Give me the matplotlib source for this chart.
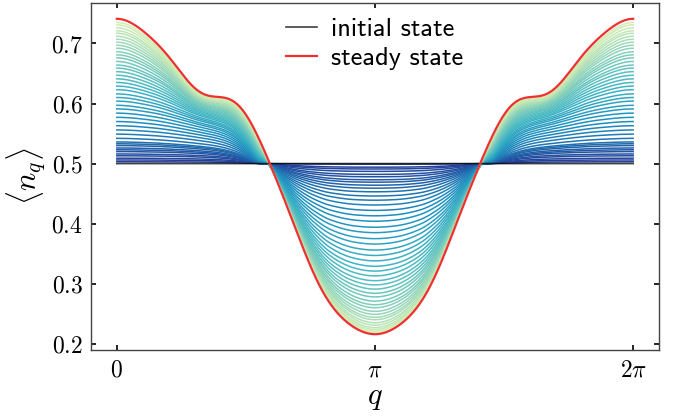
import numpy as np
import matplotlib.pyplot as plt

plt.rcParams['mathtext.fontset'] = 'cm'
plt.rcParams['font.family'] = 'serif'
plt.rcParams['font.serif'] = ['DejaVu Serif']

# steady-state occupation on [0, pi]; the other half is its mirror image
q_steady = [0.0, 0.154, 0.316, 0.477, 0.639, 0.80, 0.963, 1.125, 1.286, 1.448, 1.57,
            1.69, 1.81, 1.89, 2.01, 2.14, 2.26, 2.38, 2.50, 2.62, 2.74, 2.86, 2.99, np.pi]
n_steady = [0.741, 0.735, 0.722, 0.701, 0.676, 0.648, 0.625, 0.6125, 0.609, 0.601, 0.584,
            0.550, 0.517, 0.491, 0.450, 0.405, 0.361, 0.322, 0.288, 0.263, 0.243, 0.230,
            0.220, 0.216]

# normalised profile of the earliest time steps (+1 at q=0, -1 at q=pi)
q_early = [0.0, 0.4, 0.8, 1.1, 1.3, 1.45, 1.6, 1.75, 1.8, 1.9, 2.0, 2.2, 2.4, 2.6, 2.9, np.pi]
shape_early = [1.0, 0.98, 0.92, 0.82, 0.68, 0.5, 0.25, 0.0, 0.0, -0.12, -0.3, -0.6,
               -0.8, -0.92, -0.99, -1.0]

# <n_q> at q = 0 and q = pi for each intermediate time step
n_edge = [0.503, 0.506, 0.509, 0.513, 0.516, 0.520, 0.523, 0.526, 0.530, 0.533, 0.536,
          0.542, 0.549, 0.556, 0.563, 0.570, 0.577, 0.584, 0.591, 0.597, 0.604,
          0.610, 0.616, 0.623, 0.629, 0.635, 0.641, 0.647, 0.653, 0.659, 0.664,
          0.670, 0.676, 0.681, 0.686, 0.692, 0.697, 0.702, 0.707, 0.712, 0.717,
          0.721, 0.726, 0.731, 0.735]
n_center = [0.499, 0.494, 0.491, 0.487, 0.482, 0.478, 0.473, 0.469, 0.464, 0.459,
            0.453, 0.446, 0.439, 0.431, 0.422, 0.413, 0.404, 0.394, 0.385, 0.375,
            0.366, 0.356, 0.347, 0.338, 0.329, 0.321, 0.313, 0.305, 0.298, 0.291,
            0.284, 0.278, 0.271, 0.265, 0.260, 0.254, 0.249, 0.244, 0.240, 0.235,
            0.231, 0.227, 0.224, 0.221, 0.218]

n_initial = 0.5


def cosine_fit(qk, vk, q, order=9):
    """Least-squares even Fourier series through the sampled points."""
    qk = np.asarray(qk, float)
    k = np.arange(order + 1)
    coef, *_ = np.linalg.lstsq(np.cos(np.outer(qk, k)), np.asarray(vk, float), rcond=None)
    return np.cos(np.outer(q, k)) @ coef


def pchip(qk, vk, q):
    """Shape-preserving cubic through the knots, flat at q=0 and q=pi."""
    qk = np.asarray(qk, float)
    vk = np.asarray(vk, float)
    h = np.diff(qk)
    d = np.diff(vk) / h
    m = np.zeros_like(vk)
    for k in range(1, len(vk) - 1):
        if d[k - 1] * d[k] > 0:
            w1 = 2 * h[k] + h[k - 1]
            w2 = h[k] + 2 * h[k - 1]
            m[k] = (w1 + w2) / (w1 / d[k - 1] + w2 / d[k])
    i = np.clip(np.searchsorted(qk, q) - 1, 0, len(qk) - 2)
    hi = h[i]
    t = (q - qk[i]) / hi
    return ((2 * t**3 - 3 * t**2 + 1) * vk[i] + (t**3 - 2 * t**2 + t) * hi * m[i]
            + (-2 * t**3 + 3 * t**2) * vk[i + 1] + (t**3 - t**2) * hi * m[i + 1])


q = np.linspace(0, 2 * np.pi, 1200)
qf = np.minimum(q, 2 * np.pi - q)

steady = cosine_fit(q_steady, n_steady, q)
dev = steady - n_initial
shape_steady = np.where(dev > 0, dev / (steady[0] - n_initial),
                        dev / (n_initial - steady.min()))
shape_init = pchip(q_early, shape_early, qf)

fig = plt.figure(figsize=(6.88, 4.16), dpi=100)
ax = fig.add_axes([0.1323, 0.1587, 0.8255, 0.834])

colors = plt.cm.YlGnBu_r(np.linspace(0.15, 0.78, len(n_edge)))
depth_final = n_initial - steady.min()
for ne, nc, c in zip(n_edge, n_center, colors):
    w = (n_initial - nc) / depth_final
    shape = (1 - w) * shape_init + w * shape_steady
    a = ne - n_initial
    b = n_initial - nc
    ax.plot(q, n_initial + np.where(shape > 0, a * shape, b * shape), color=c, lw=1.1)

ax.plot(q, np.full_like(q, n_initial), color='k', alpha=0.75, lw=1.2, label='initial state')
ax.plot(q, steady, color='#f03030', lw=1.6, label='steady state')

ax.set_xticks([0, np.pi, 2 * np.pi])
ax.set_xticklabels([r'$0$', r'$\pi$', r'$2\pi$'])
ax.set_yticks([0.2, 0.3, 0.4, 0.5, 0.6, 0.7])
ax.set_yticklabels([r'$%.1f$' % v for v in [0.2, 0.3, 0.4, 0.5, 0.6, 0.7]])
ax.tick_params(direction='in', top=True, right=True, length=3.5, width=1.2,
               labelsize=17, pad=6)
for s in ax.spines.values():
    s.set_color('#444444')
    s.set_linewidth(1.0)

ax.set_xlabel(r'$q$', fontsize=22, labelpad=0)
ax.set_ylabel(r'$\langle n_q \rangle$', fontsize=22, labelpad=2)

ax.legend(loc='upper center', bbox_to_anchor=(0.5, 1.0), frameon=False,
          handlelength=1.15, handletextpad=0.55, labelspacing=0.2, borderaxespad=0.15,
          prop={'family': 'cmss10', 'size': 19})

fig.savefig('out.png', dpi=100)
